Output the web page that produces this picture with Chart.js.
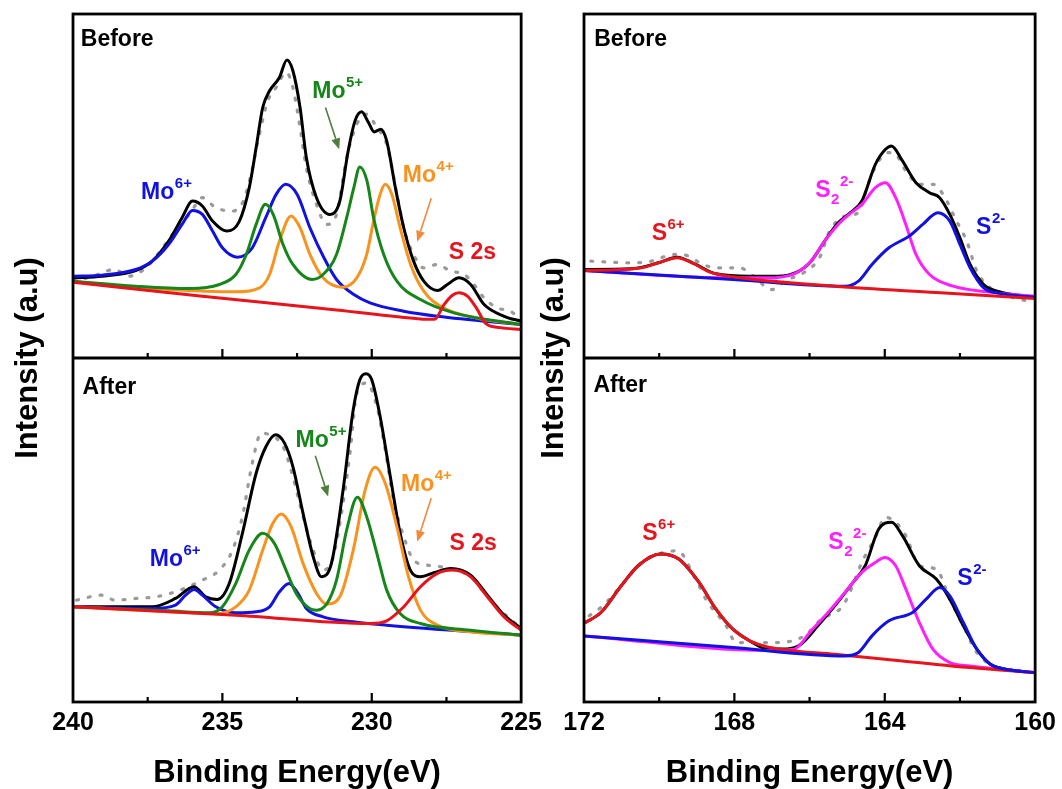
<!DOCTYPE html>
<html><head><meta charset="utf-8">
<script src="https://cdn.jsdelivr.net/npm/chart.js@4"></script>
<style>
html,body{margin:0;padding:0;background:#fff;}
body{width:1062px;height:789px;position:relative;overflow:hidden;}
#c1{position:absolute;left:0;top:0;}
#c2{position:absolute;left:530px;top:0;}
</style></head><body>
<canvas id="c1" width="548" height="789"></canvas>
<canvas id="c2" width="532" height="789"></canvas>
<script>
// ---------- tick values ----------
const moMajor = [235, 230];
const moMinor = [237.5, 232.5, 227.5];
const sMajor = [168, 164];
const sMinor = [170, 166, 162];

// ---------- Mo 3d, Before (top-left) : [binding energy, intensity] ----------
const tlData = [[240,23.5],[239.5,24],[238.6,26.5],[238.14,24.5],[237.5,27.5],[237.0,33],[236.5,39],[236.1,43],[235.67,48],[235.22,45],[234.66,44],[234.3,47],[234.04,55],[233.76,67],[233.48,77],[233.2,81],[232.86,85.5],[232.64,81],[232.4,69],[232.19,57],[231.85,46],[231.51,40],[231.18,43],[230.84,60],[230.5,70],[230.17,73],[229.83,69],[229.5,64],[229.2,51],[228.93,39],[228.6,31],[228.26,27],[227.8,28],[227.36,26],[226.9,25],[226.58,22],[226.24,18],[225.8,15],[225.35,14],[225,11]];
const tlEnv = [[240,24],[239.03,24.5],[237.9,26.2],[237.35,29],[236.8,35],[236.35,42],[236.0,47],[235.67,45.5],[235.33,41],[234.86,38],[234.43,41],[234.1,51],[233.87,63],[233.65,75],[233.42,80],[233.09,84],[232.84,89.2],[232.64,86],[232.4,75],[232.19,60],[231.85,48],[231.4,43],[231.07,47],[230.79,62],[230.56,71],[230.34,73.7],[230.11,70.5],[229.92,67.7],[229.7,68.5],[229.5,65],[229.21,51],[228.93,39],[228.6,29],[228.26,23],[227.8,20.2],[227.47,22],[227.08,24],[226.69,22],[226.24,16],[225.57,12.5],[225,11]];
const tlMo6 = [[240,24.5],[239.03,24.8],[237.9,26.5],[237.35,29],[236.8,34],[236.35,40],[236.0,44.2],[235.67,43],[235.33,38],[235.0,33],[234.5,30.2],[234.0,33],[233.55,42],[233.2,49],[232.88,52],[232.5,49],[232.07,39],[231.6,30],[231.18,23.5],[230.6,19],[230.06,16.5],[228.93,14],[227.8,12.5],[225,10]];
const tlMo5 = [[240,23],[237.9,21.5],[236.1,20.8],[235.1,22],[234.55,25],[234.2,31],[233.87,40],[233.56,46],[233.3,43],[232.97,34],[232.64,28],[232.0,23.5],[231.63,25],[231.18,31],[230.84,42],[230.6,51],[230.4,57.2],[230.16,53],[229.94,42],[229.6,31],[229.16,23],[228.37,17.5],[227.25,13.5],[225,10]];
const tlMo4 = [[240,22.8],[236.8,20.5],[234.55,19.8],[233.76,21],[233.42,25],[233.09,35],[232.7,42.5],[232.4,39],[232.07,31],[231.63,24],[231.0,21.2],[230.5,24],[230.17,31],[229.94,41],[229.72,49],[229.55,52],[229.33,49],[229.05,39],[228.7,28],[228.26,20],[227.6,15],[226.5,12],[225,10]];
const tlS2s = [[240,22.7],[235.67,18.5],[231.18,14.4],[228.37,11.7],[227.9,11.6],[227.58,16],[227.3,18.8],[227.08,19.5],[226.8,18.5],[226.5,15],[226.18,10.3],[225.7,9.1],[225,8.5]];

// ---------- Mo 3d, After (bottom-left) ----------
const blData = [[239.88,30.5],[239.03,32],[238.6,30.5],[237.9,31],[237.24,31.5],[236.57,33],[235.67,36.5],[235.1,39.5],[234.66,45.5],[234.33,55.5],[234,71.5],[233.7,80.5],[233.42,80],[232.97,76.5],[232.64,67.5],[232.3,55.5],[231.96,45.5],[231.63,39.5],[231.29,43.5],[230.96,59.5],[230.73,74.5],[230.5,92.5],[230.17,95.5],[229.83,88.5],[229.55,75.5],[229.27,60.5],[228.93,49.5],[228.6,42.5],[228.15,41],[227.7,40.5],[227.25,39.5],[226.69,37.5],[226.13,31.5],[225.57,26.5],[225.06,22.5]];
const blEnv = [[240,28.5],[237.35,28.5],[236.57,31],[235.95,34.5],[235.56,31.5],[235.17,30.7],[234.77,35.5],[234.33,50.5],[233.87,68.5],[233.54,76.5],[233.22,80],[232.92,77.5],[232.64,70.5],[232.3,56.5],[231.96,43.5],[231.68,37.5],[231.35,41.5],[230.96,63.5],[230.62,87.5],[230.4,96.5],[230.19,98.3],[230,96.5],[229.72,85.5],[229.38,67.5],[229.05,50.5],[228.71,39.5],[228.37,37.5],[227.92,38.7],[227.36,40],[226.69,38],[226.13,32],[225.57,26],[225,22]];
const blMo6 = [[240,28.5],[237.35,28],[236.57,29],[236.23,32],[235.95,33.7],[235.67,32],[235.22,28.5],[234.55,26.7],[233.87,27],[233.42,28.5],[233.09,33],[232.77,35.5],[232.47,32.5],[232.19,28],[231.63,25.5],[230.62,24],[229.5,23],[225,20]];
const blMo5 = [[240,28.5],[236.8,27.3],[235.44,26.7],[235.0,28.5],[234.55,35.5],[234.1,45.5],[233.65,50.5],[233.26,47.5],[232.87,39.5],[232.53,32.5],[232.08,28],[231.85,27.5],[231.5,29.5],[231.18,36.5],[230.84,51.5],[230.48,61.3],[230.17,55.5],[229.83,44.5],[229.5,33.5],[229.05,26.5],[228.37,23.5],[226.69,21.5],[225,20]];
const blMo4 = [[240,28.5],[236.8,27],[235.22,26.5],[234.55,28.5],[234.1,33.5],[233.65,45.5],[233.31,53.5],[233.03,56.3],[232.7,52.5],[232.3,41.5],[231.85,32.5],[231.51,29.3],[231.07,31.5],[230.62,45.5],[230.22,63.5],[229.89,70.3],[229.55,65.5],[229.16,52.5],[228.77,37.5],[228.37,27.5],[227.8,23],[226.69,21],[225,20]];
const blS2s = [[240,28.5],[234.55,26],[230.06,23.5],[229.5,24.3],[228.93,28.5],[228.37,34.5],[227.8,38.5],[227.3,39.5],[226.69,37.5],[226.13,31.5],[225.57,25.5],[225,21.5]];

// ---------- S 2p, Before (top-right) ----------
const trData = [[171.82,29],[171.28,28.7],[170.74,28.5],[170.29,28.8],[169.57,31],[169.21,30.5],[168.85,28],[168.4,27],[167.86,27],[167.5,24.5],[167,20.5],[166.6,23.5],[166.23,25],[165.69,31],[165.51,37],[165.06,42.5],[164.7,43.5],[164.43,52.5],[164.16,59],[163.89,61.5],[163.71,61],[163.44,56],[163.08,52],[162.72,52],[162.45,49],[162.09,41],[161.82,35],[161.55,26],[161.19,21],[160.83,19],[160.38,17.5],[160.11,17]];
const trEnv = [[172,26.5],[170.74,26.7],[170.02,28.5],[169.52,30.2],[169.03,28],[168.49,25.2],[167.59,24.5],[166.86,24.5],[166.32,25.8],[165.96,29],[165.6,35],[165.24,40.5],[164.97,43],[164.61,47],[164.25,58],[163.98,62.5],[163.82,63.5],[163.53,59],[163.17,52.5],[162.81,49.5],[162.54,48],[162.27,43],[162,36],[161.73,28],[161.37,22],[161.01,20],[160,18.2]];
const trS6 = [[172,26.2],[171.19,26.4],[170.47,27],[170.02,28.5],[169.52,30],[169.12,28.5],[168.67,25.8],[168.04,24.3],[165.33,21.5],[162.63,19.6],[160,17.8]];
const trS22 = [[172,26.2],[168.94,24.2],[167.14,24],[166.41,25.2],[165.96,29],[165.6,35],[165.24,40],[164.97,42.8],[164.61,46],[164.25,51],[163.98,52.5],[163.71,48],[163.44,40],[163.17,31],[162.81,25],[162.18,21.5],[161.28,19.8],[160,18.5]];
const trS2 = [[172,26.2],[168.04,23.5],[165.06,21.5],[164.7,23],[164.34,28],[163.89,33],[163.35,36.5],[162.99,40],[162.59,43.5],[162.27,41],[162,34],[161.73,27],[161.37,21],[161.01,19.5],[160,18.2]];

// ---------- S 2p, After (bottom-right) ----------
const brData = [[171.86,25.8],[171.5,28.8],[171.01,34.8],[170.47,41.8],[170.02,44.3],[169.52,45.3],[169.03,36.8],[168.76,30.8],[168.22,22.8],[167.95,17.8],[166.95,17.8],[166.14,19.8],[165.69,24.8],[165.15,28.3],[164.97,31.8],[164.61,41.8],[164.25,49.3],[163.98,55.3],[163.71,53.8],[163.44,49.8],[163.08,40.8],[162.63,39.8],[162.27,30.8],[161.91,22.8],[161.55,14.8],[160.83,9.8],[160.15,9.3]];
const brEnv = [[172,23.6],[171.55,26.8],[171.01,34.8],[170.56,40.8],[169.97,44.3],[169.48,42.8],[168.94,35.8],[168.49,27.8],[168.04,21.8],[167.59,18.3],[167.14,15.9],[166.6,15.9],[166.23,17.3],[165.78,22.8],[165.33,28.8],[164.88,35.3],[164.52,40.8],[164.16,51.8],[163.82,53.8],[163.53,49.8],[163.08,40.8],[162.63,36.8],[162.27,30.8],[161.91,22.8],[161.55,15.8],[161.19,11.3],[160.65,9.6],[160,8.8]];
const brS6 = [[172,23.6],[171.55,26.8],[171.01,34.8],[170.56,40.8],[169.97,44.3],[169.48,42.8],[168.94,35.8],[168.49,27.8],[168.04,21.8],[167.59,18.3],[167.05,16.3],[166.6,15.5],[165.33,14.3],[163.53,12.3],[161.73,10.3],[160,8.8]];
const brS22 = [[172,19.8],[167.14,15.4],[166.41,15.8],[165.96,21.3],[165.51,26.8],[165.06,32.8],[164.61,38.8],[164.25,41.8],[164,43.3],[163.71,40.8],[163.44,33.8],[163.08,23.8],[162.72,15.8],[162.27,11.8],[161.73,10.8],[160,8.8]];
const brS2 = [[172,19.8],[168.04,16.3],[165.06,13.8],[164.7,14.8],[164.34,19.8],[163.89,24.3],[163.26,26.8],[162.9,30.8],[162.54,34.3],[162.27,31.8],[161.91,23.8],[161.55,15.8],[161.19,11.3],[160.65,9.6],[160,8.8]];

// ---------- colours ----------
const BLUE='#1212e0', GREEN='#17861a', ORANGE='#f7931e', RED='#e8141c', MAG='#ff1fff', GRAY='#9a9a9a', BLACK='#000000';
const FONT='"Liberation Sans", Arial, Helvetica, sans-serif';
Chart.defaults.font.family = FONT;
Chart.defaults.color = '#000';

// ---------- annotations (data coordinates) ----------
const leftLabels = [
  {axis:'yTop', E:239.74, I:93.3, color:BLACK, parts:[['Before',23,0]]},
  {axis:'yBot', E:239.68, I:92.3, color:BLACK, parts:[['After',23,0]]},
  {axis:'yTop', E:237.72, I:47.5, color:BLUE, parts:[['Mo',23,0],['6+',15,-11]]},
  {axis:'yTop', E:231.99, I:77.7, color:GREEN, parts:[['Mo',23,0],['5+',15,-11]]},
  {axis:'yTop', E:228.96, I:52.7, color:ORANGE, parts:[['Mo',23,0],['4+',15,-11]]},
  {axis:'yTop', E:227.42, I:29.6, color:RED, parts:[['S 2s',23,0]]},
  {axis:'yBot', E:237.43, I:40.7, color:BLUE, parts:[['Mo',23,0],['6+',15,-11]]},
  {axis:'yBot', E:232.55, I:76.5, color:GREEN, parts:[['Mo',23,0],['5+',15,-11]]},
  {axis:'yBot', E:229.02, I:63.2, color:ORANGE, parts:[['Mo',23,0],['4+',15,-11]]},
  {axis:'yBot', E:227.4, I:45.4, color:RED, parts:[['S 2s',23,0]]}
];
const leftArrows = [
  {axis:'yTop', from:[231.55,75], to:[231.09,62.5], color:'#4f7d3b'},
  {axis:'yTop', from:[228.01,47.8], to:[228.48,34.8], color:'#f0893c'},
  {axis:'yBot', from:[231.89,73.7], to:[231.46,61.5], color:'#4f7d3b'},
  {axis:'yBot', from:[228.01,61], to:[228.48,48], color:'#f0893c'}
];
const rightLabels = [
  {axis:'yTop', E:171.73, I:93.3, color:BLACK, parts:[['Before',23,0]]},
  {axis:'yBot', E:171.75, I:92.8, color:BLACK, parts:[['After',23,0]]},
  {axis:'yTop', E:170.2, I:35.2, color:RED, parts:[['S',23,0],['6+',15,-11]]},
  {axis:'yTop', E:165.85, I:48.2, color:MAG, parts:[['S',23,0],['2',15,7],['2-',15,-11]]},
  {axis:'yTop', E:161.57, I:37, color:BLUE, parts:[['S',23,0],['2-',15,-11]]},
  {axis:'yBot', E:170.45, I:48.6, color:RED, parts:[['S',23,0],['6+',15,-11]]},
  {axis:'yBot', E:165.5, I:45.8, color:MAG, parts:[['S',23,0],['2',15,7],['2-',15,-11]]},
  {axis:'yBot', E:162.07, I:35, color:BLUE, parts:[['S',23,0],['2-',15,-11]]}
];
const rightArrows = [];

// ---------- helpers ----------
function pts(arr){ return arr.map(p => ({x:p[0], y:p[1]})); }
function ds(arr, color, axis, width, dash){
  return {data:pts(arr), borderColor:color, backgroundColor:color, borderWidth:width||3,
    yAxisID:axis, xAxisID:'x', pointRadius:0, pointHoverRadius:0, fill:false,
    cubicInterpolationMode:'monotone', borderDash:dash||[], borderCapStyle:dash?'round':'butt'};
}
const DOTS=[2,10];

function makeDeco(major, minor, labels, arrows){
  return {id:'deco', afterDraw(chart){
    const ctx=chart.ctx, a=chart.chartArea, sc=chart.scales, x=sc.x;
    ctx.save();
    for (const ar of arrows){
      const y=sc[ar.axis];
      const x1=x.getPixelForValue(ar.from[0]), y1=y.getPixelForValue(ar.from[1]);
      const x2=x.getPixelForValue(ar.to[0]), y2=y.getPixelForValue(ar.to[1]);
      const ang=Math.atan2(y2-y1,x2-x1), hl=11, hw=4.5;
      const bx=x2-hl*Math.cos(ang), by=y2-hl*Math.sin(ang);
      ctx.strokeStyle=ar.color; ctx.fillStyle=ar.color; ctx.lineWidth=1.6;
      ctx.beginPath(); ctx.moveTo(x1,y1); ctx.lineTo(bx,by); ctx.stroke();
      ctx.beginPath(); ctx.moveTo(x2,y2);
      ctx.lineTo(bx+hw*Math.sin(ang), by-hw*Math.cos(ang));
      ctx.lineTo(bx-hw*Math.sin(ang), by+hw*Math.cos(ang));
      ctx.closePath(); ctx.fill();
    }
    ctx.textAlign='left'; ctx.textBaseline='alphabetic';
    for (const lb of labels){
      let px=x.getPixelForValue(lb.E); const py=sc[lb.axis].getPixelForValue(lb.I);
      ctx.fillStyle=lb.color;
      for (const [t,size,dy] of lb.parts){
        ctx.font='bold '+size+'px '+FONT;
        ctx.fillText(t,px,py+dy);
        px+=ctx.measureText(t).width+0.5;
      }
    }
    ctx.strokeStyle='#000'; ctx.lineWidth=2.8;
    ctx.strokeRect(a.left,a.top,a.right-a.left,a.bottom-a.top);
    const mid=sc.yTop.bottom;
    ctx.beginPath(); ctx.moveTo(a.left,mid); ctx.lineTo(a.right,mid); ctx.stroke();
    ctx.lineWidth=2.2;
    for (const b of [mid, a.bottom]){
      for (const v of major){ const p=x.getPixelForValue(v); ctx.beginPath(); ctx.moveTo(p,b); ctx.lineTo(p,b-9); ctx.stroke(); }
      for (const v of minor){ const p=x.getPixelForValue(v); ctx.beginPath(); ctx.moveTo(p,b); ctx.lineTo(p,b-5); ctx.stroke(); }
    }
    ctx.restore();
  }};
}

function makeOptions(xmin, xmax, step, yTitleWidth, yTitlePad, padRight){
  const hidden = {type:'linear', min:0, max:103, position:'left', stack:'panels', stackWeight:1, display:false};
  return {
    responsive:false, animation:false, events:[],
    layout:{padding:{left:0, top:14, right:padRight, bottom:0}},
    plugins:{legend:{display:false}, tooltip:{enabled:false}},
    scales:{
      x:{type:'linear', position:'bottom', min:xmin, max:xmax, reverse:true,
         ticks:{stepSize:step, font:{size:25, weight:'bold'}, color:'#000', padding:6, maxRotation:0, autoSkip:false},
         grid:{display:false, drawTicks:false}, border:{display:false},
         title:{display:true, text:'Binding Energy(eV)', color:'#000', font:{size:31, weight:'bold', lineHeight:1}, padding:{top:0, bottom:0}},
         afterFit:s=>{ s.height = 87; }},
      yBot: Object.assign({}, hidden),
      yTop: Object.assign({}, hidden),
      yTitle:{type:'linear', position:'left', display:true,
         ticks:{display:false}, grid:{display:false, drawTicks:false}, border:{display:false},
         title:{display:true, text:'Intensity (a.u)', color:'#000', font:{size:31, weight:'bold', lineHeight:1}, padding:{top:yTitlePad, bottom:0}},
         afterFit:s=>{ s.width = yTitleWidth; }}
    }
  };
}

new Chart(document.getElementById('c1'), {
  type:'line',
  data:{datasets:[
    ds(tlS2s, RED, 'yTop'), ds(tlMo5, GREEN, 'yTop'), ds(tlMo4, ORANGE, 'yTop'), ds(tlMo6, BLUE, 'yTop'),
    ds(tlEnv, BLACK, 'yTop', 3), ds(tlData, GRAY, 'yTop', 3.2, DOTS),
    ds(blS2s, RED, 'yBot'), ds(blMo5, GREEN, 'yBot'), ds(blMo4, ORANGE, 'yBot'), ds(blMo6, BLUE, 'yBot'),
    ds(blEnv, BLACK, 'yBot', 3), ds(blData, GRAY, 'yBot', 3.2, DOTS)
  ]},
  options: makeOptions(225, 240, 5, 73, 12.5, 24),
  plugins:[makeDeco(moMajor, moMinor, leftLabels, leftArrows)]
});

new Chart(document.getElementById('c2'), {
  type:'line',
  data:{datasets:[
    ds(trS6, RED, 'yTop'), ds(trS2, BLUE, 'yTop'), ds(trS22, MAG, 'yTop'),
    ds(trEnv, BLACK, 'yTop', 3), ds(trData, GRAY, 'yTop', 3.2, DOTS),
    ds(brS2, BLUE, 'yBot'), ds(brS6, RED, 'yBot'), ds(brS22, MAG, 'yBot'),
    ds(brEnv, BLACK, 'yBot', 3), ds(brData, GRAY, 'yBot', 3.2, DOTS)
  ]},
  options: makeOptions(160, 172, 4, 54, 9, 26),
  plugins:[makeDeco(sMajor, sMinor, rightLabels, rightArrows)]
});
</script></body></html>
